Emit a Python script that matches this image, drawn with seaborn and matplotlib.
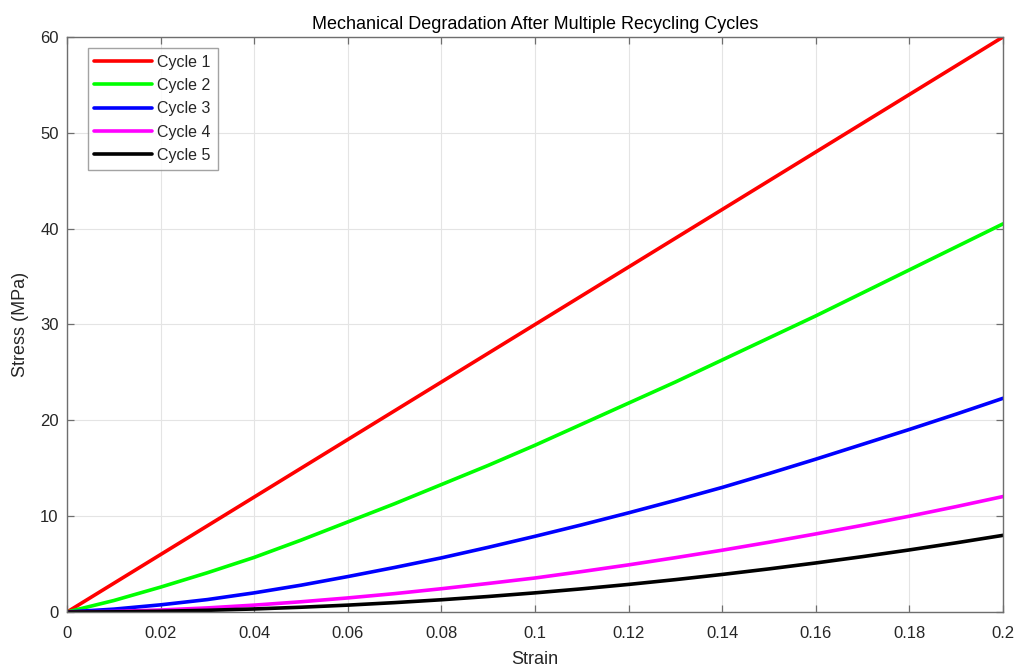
import numpy as np
import pandas as pd
import matplotlib
matplotlib.use("Agg")
import matplotlib.pyplot as plt
import seaborn as sns

# Strain samples (shared by all cycles)
strain = [0.00, 0.01, 0.02, 0.03, 0.04, 0.05, 0.06, 0.07, 0.08, 0.09, 0.10,
          0.11, 0.12, 0.13, 0.14, 0.15, 0.16, 0.17, 0.18, 0.19, 0.20]

# Stress (MPa) for each recycling cycle
cycle1 = [0, 3, 6, 9, 12, 15, 18, 21, 24, 27, 30,
          33, 36, 39, 42, 45, 48, 51, 54, 57, 60]
cycle2 = [0, 1.2, 2.6, 4.1, 5.7, 7.5, 9.4, 11.3, 13.3, 15.3, 17.4,
          19.6, 21.8, 24.0, 26.3, 28.6, 30.9, 33.3, 35.7, 38.1, 40.5]
cycle3 = [0, 0.3, 0.75, 1.3, 2.0, 2.8, 3.7, 4.65, 5.65, 6.75, 7.9,
          9.1, 10.35, 11.65, 13.0, 14.45, 15.95, 17.5, 19.05, 20.65, 22.3]
cycle4 = [0, 0.06, 0.21, 0.43, 0.72, 1.07, 1.47, 1.92, 2.43, 2.98, 3.55,
          4.22, 4.92, 5.67, 6.45, 7.28, 8.15, 9.05, 10.0, 11.0, 12.05]
cycle5 = [0, 0.02, 0.08, 0.18, 0.32, 0.5, 0.72, 0.98, 1.28, 1.62, 2.0,
          2.42, 2.88, 3.38, 3.92, 4.5, 5.12, 5.78, 6.48, 7.22, 8.0]

labels = ["Cycle 1", "Cycle 2", "Cycle 3", "Cycle 4", "Cycle 5"]
colors = ["#ff0000", "#00ff00", "#0000ff", "#ff00ff", "#000000"]

x_ticks = [0, 0.02, 0.04, 0.06, 0.08, 0.1, 0.12, 0.14, 0.16, 0.18, 0.2]
x_ticklabels = ["0", "0.02", "0.04", "0.06", "0.08", "0.1", "0.12", "0.14",
                "0.16", "0.18", "0.2"]
y_ticks = [0, 10, 20, 30, 40, 50, 60]

frames = []
for lab, vals in zip(labels, [cycle1, cycle2, cycle3, cycle4, cycle5]):
    frames.append(pd.DataFrame({"Strain": strain, "Stress": vals, "Cycle": lab}))
df = pd.concat(frames, ignore_index=True)

sns.set_theme(style="white")
plt.rcParams["font.family"] = ["Liberation Sans", "DejaVu Sans"]

text_col = "#262626"
axis_col = "#6e6e6e"

fig = plt.figure(figsize=(10.19, 6.71), dpi=100)
ax = fig.add_axes([0.0658, 0.0879, 0.9185, 0.857])

sns.lineplot(data=df, x="Strain", y="Stress", hue="Cycle",
             palette=dict(zip(labels, colors)), linewidth=2.6,
             ax=ax, legend=True, sort=False)

ax.set_xlim(0, 0.2)
ax.set_ylim(0, 60)
ax.set_xticks(x_ticks)
ax.set_xticklabels(x_ticklabels)
ax.set_yticks(y_ticks)

ax.grid(True, color="#e4e4e4", linewidth=0.8)
ax.set_axisbelow(True)
for sp in ax.spines.values():
    sp.set_visible(True)
    sp.set_color(axis_col)
    sp.set_linewidth(1.0)

ax.tick_params(axis="both", which="major", direction="in", length=5,
               width=0.9, color=axis_col, labelcolor=text_col, labelsize=12,
               top=True, right=True, bottom=True, left=True)
ax.tick_params(axis="x", pad=10)
ax.tick_params(axis="y", pad=6)

ax.set_xlabel("Strain", fontsize=13, color=text_col, labelpad=7)
ax.set_ylabel("Stress (MPa)", fontsize=13, color=text_col, labelpad=8)
ax.set_title("Mechanical Degradation After Multiple Recycling Cycles",
             fontsize=13, color="#000000", pad=6)

leg = ax.legend(loc="upper left", bbox_to_anchor=(0.022, 0.981),
                fontsize=11.5, frameon=True, fancybox=False,
                handlelength=3.6, handletextpad=0.35, borderpad=0.42,
                labelspacing=0.52, borderaxespad=0)
leg.get_frame().set_edgecolor("#8c8c8c")
leg.get_frame().set_linewidth(1.0)
for line in leg.get_lines():
    line.set_linewidth(2.6)
for t in leg.get_texts():
    t.set_color(text_col)

fig.savefig("out.png", dpi=100, facecolor="white")
